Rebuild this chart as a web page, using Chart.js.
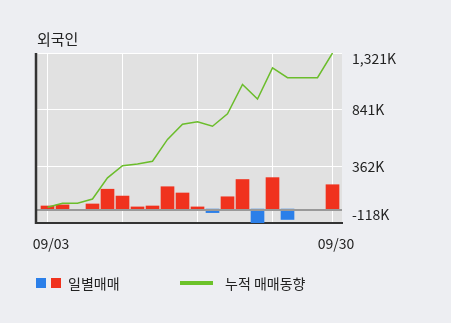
<!DOCTYPE html>
<html>
<head>
<meta charset="utf-8">
<script src="https://cdn.jsdelivr.net/npm/chart.js@4"></script>
<style>
  body { margin: 0; background: #edeef2; font-family: "Noto Sans CJK KR", sans-serif; color: #222; }
  #wrap { position: relative; width: 451px; height: 323px; }
  .txt { position: absolute; white-space: nowrap; font-size: 14px; line-height: 14px; }
  .sq { position: absolute; width: 10px; height: 10px; }
</style>
</head>
<body>
<div id="wrap">
  <canvas id="myChart" width="451" height="323"></canvas>
  <div class="txt" id="title" style="left:37px; top:31px; font-size:15px; line-height:15px;">외국인</div>
  <div class="sq" style="left:36px; top:278px; background:#2b7fe9;"></div>
  <div class="sq" style="left:51px; top:278px; background:#f0321e;"></div>
  <div class="txt" style="left:68px; top:276px;">일별매매</div>
  <div style="position:absolute; left:180px; top:281px; width:33px; height:4px; background:#6cc22a;"></div>
  <div class="txt" style="left:225px; top:276px;">누적 매매동향</div>
</div>
<script>
// 날짜 (거래일)
var dates = ['09/03', '09/04', '09/05', '09/08', '09/09', '09/10', '09/11', '09/12', '09/15', '09/16',
             '09/17', '09/18', '09/19', '09/22', '09/23', '09/24', '09/25', '09/26', '09/29', '09/30'];
// 일별매매 (K)
var daily = [26, 35, 0, 43, 168, 110, 18, 26, 189, 136, 18, -30, 104, 250, -116, 266, -88, 0, 0, 206];
// 누적 매매동향 (K)
var cumulative = [16, 50, 50, 85, 264, 367, 382, 405, 590, 718, 739, 701, 807, 1055, 932, 1195, 1112, 1112, 1112, 1321];
// 눈금
var yTicks = [-118, 362, 841, 1321];
var xGrid = [0, 5, 10, 15, 19];

function fmt(v) {
  return v.toLocaleString('en-US') + 'K';
}

var bgPlugin = {
  id: 'bg',
  beforeDraw: function(chart) {
    var a = chart.chartArea, ctx = chart.ctx;
    ctx.save();
    ctx.fillStyle = '#e1e1e1';
    ctx.fillRect(a.left, a.top, a.right - a.left, a.bottom - a.top);
    ctx.restore();
  },
  afterDatasetsDraw: function(chart) {
    var a = chart.chartArea, ctx = chart.ctx, y = chart.scales.y;
    ctx.save();
    // 0 라인
    var y0 = Math.round(y.getPixelForValue(0)) + 1;
    ctx.strokeStyle = '#999999';
    ctx.lineWidth = 2;
    ctx.beginPath();
    ctx.moveTo(a.left, y0);
    ctx.lineTo(a.right, y0);
    ctx.stroke();
    // 왼쪽 축선
    ctx.strokeStyle = '#333333';
    ctx.lineWidth = 2.5;
    ctx.beginPath();
    ctx.moveTo(a.left, a.top);
    ctx.lineTo(a.left, a.bottom + 1);
    ctx.stroke();
    ctx.restore();
  },
  afterDraw: function(chart) {
    var a = chart.chartArea, ctx = chart.ctx, y = chart.scales.y;
    ctx.save();
    ctx.font = '14px "Noto Sans CJK KR"';
    ctx.fillStyle = '#222';
    ctx.textAlign = 'left';
    ctx.textBaseline = 'middle';
    y.ticks.forEach(function(t) {
      var py = y.getPixelForValue(t.value);
      py = Math.min(Math.max(py, a.top + 6), a.bottom - 8);
      ctx.fillText(fmt(t.value), a.right + 10, py);
    });
    ctx.restore();
  }
};

var ctx = document.getElementById('myChart').getContext('2d');
var myChart = new Chart(ctx, {
  type: 'bar',
  data: {
    datasets: [
      {
        type: 'line',
        label: '누적 매매동향',
        data: cumulative.map(function(v, i) { return { x: i, y: v }; }),
        borderColor: '#6bbd2b',
        borderWidth: 1.5,
        pointRadius: 0,
        tension: 0,
        order: 0
      },
      {
        label: '일별매매',
        data: daily.map(function(v, i) { return { x: i, y: v }; }),
        backgroundColor: daily.map(function(v) {
          if (v === 0) return 'rgba(0,0,0,0)';
          return v < 0 ? '#2b7fe9' : '#f0321e';
        }),
        barThickness: 13,
        order: 1
      }
    ]
  },
  options: {
    responsive: false,
    animation: false,
    layout: { padding: { left: 36, top: 53, right: 0, bottom: 0 } },
    plugins: { legend: { display: false }, tooltip: { enabled: false } },
    scales: {
      x: {
        type: 'linear',
        offset: false,
        min: -0.767,
        max: 19.633,
        afterBuildTicks: function(scale) {
          scale.ticks = xGrid.map(function(v) { return { value: v }; });
        },
        afterFit: function(scale) { scale.height = 100; },
        grid: { color: '#ffffff', lineWidth: 1, drawTicks: false, offset: false },
        border: { display: true, color: '#333333', width: 2 },
        ticks: {
          padding: 12,
          labelOffset: 3.5,
          maxRotation: 0,
          autoSkip: false,
          color: '#222',
          font: { family: '"Noto Sans CJK KR"', size: 14 },
          callback: function(v) {
            return (v === 0 || v === dates.length - 1) ? dates[v] : '';
          }
        }
      },
      y: {
        position: 'right',
        min: -118,
        max: 1321,
        afterBuildTicks: function(scale) {
          scale.ticks = yTicks.map(function(v) { return { value: v }; });
        },
        afterFit: function(scale) { scale.width = 109; },
        grid: { color: '#ffffff', lineWidth: 1, drawTicks: false },
        border: { display: false },
        ticks: { display: false }
      }
    }
  },
  plugins: [bgPlugin]
});
</script>
</body>
</html>
